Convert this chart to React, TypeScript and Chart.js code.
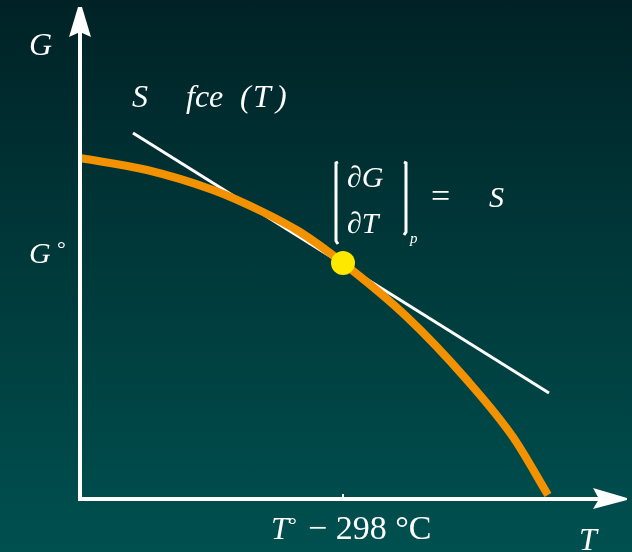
import React, { useEffect, useRef } from "react";
import { Chart, registerables } from "chart.js";

Chart.register(...registerables);

// Temperature (T) and Gibbs energy (G) in arbitrary units, origin at the axes' corner
const curveT = [0, 6.7, 13.3, 18.3, 22, 26.3, 32.7, 38.7, 43.3, 46.8];
const curveG = [34.1, 32.9, 30.9, 28.7, 26.7, 23.6, 18.2, 11.9, 6.2, 0.4];

// Tangent to the curve at the standard temperature T°
const tangentT = [5.3, 46.9];
const tangentG = [36.6, 10.6];

// Point of tangency (T°, G°)
const pointT = [26.3];
const pointG = [23.6];

// Axis extents (arrow tips)
const axisTMax = 54.7;
const axisGMax = 49.2;

const FONT = '"Liberation Serif", "Times New Roman", serif';

const overlay = {
  id: "overlay",
  afterDatasetsDraw(chart: any) {
    const { ctx, scales } = chart;
    const px = (v: number) => scales.x.getPixelForValue(v);
    const py = (v: number) => scales.y.getPixelForValue(v);
    const x0 = px(0);
    const y0 = py(0);
    const xTip = px(axisTMax);
    const yTip = py(axisGMax);

    ctx.save();
    ctx.fillStyle = "#ffffff";
    ctx.strokeStyle = "#ffffff";

    // axes
    ctx.lineWidth = 4;
    ctx.lineCap = "butt";
    ctx.beginPath();
    ctx.moveTo(x0, y0 + 1);
    ctx.lineTo(x0, yTip + 20);
    ctx.moveTo(x0 - 2, y0);
    ctx.lineTo(xTip - 20, y0);
    ctx.stroke();

    // arrow heads
    ctx.beginPath();
    ctx.moveTo(x0 - 2, yTip);
    ctx.lineTo(x0 + 2, yTip);
    ctx.lineTo(x0 + 11, yTip + 30);
    ctx.lineTo(x0, yTip + 25);
    ctx.lineTo(x0 - 11, yTip + 30);
    ctx.closePath();
    ctx.fill();
    ctx.beginPath();
    ctx.moveTo(xTip, y0 - 1);
    ctx.lineTo(xTip, y0 + 1);
    ctx.lineTo(xTip - 34, y0 + 10);
    ctx.lineTo(xTip - 28, y0);
    ctx.lineTo(xTip - 34, y0 - 11);
    ctx.closePath();
    ctx.fill();

    // tick at T°
    ctx.lineWidth = 2;
    ctx.beginPath();
    ctx.moveTo(px(pointT[0]), y0 - 5);
    ctx.lineTo(px(pointT[0]), y0);
    ctx.stroke();

    ctx.textBaseline = "alphabetic";
    ctx.textAlign = "left";
    const txt = (s: string, x: number, y: number, size: number, italic = true) => {
      ctx.font = `${italic ? "italic " : ""}${size}px ${FONT}`;
      ctx.fillText(s, x, y);
    };

    // axis names
    txt("G", 29, 55, 32);
    txt("T", 579, 550, 32);

    // S = f(T) caption
    txt("S", 132, 107, 32);
    txt("fce", 186, 107, 32);
    txt("(", 240, 107, 32);
    txt("T", 253, 107, 32);
    txt(")", 276, 107, 32);

    // G° on the vertical axis
    txt("G", 29, 263, 30);
    txt("°", 57, 256, 22, false);

    // partial derivative expression
    txt("\u2202G", 347, 187, 30);
    txt("\u2202T", 347, 233, 30);
    ctx.lineWidth = 3;
    ctx.beginPath();
    ctx.moveTo(338, 162);
    ctx.lineTo(336, 163);
    ctx.lineTo(336, 241);
    ctx.lineTo(338, 244);
    ctx.moveTo(404, 162);
    ctx.lineTo(406, 163);
    ctx.lineTo(406, 232);
    ctx.lineTo(404, 235);
    ctx.stroke();
    txt("p", 410, 243, 15);
    txt("=", 431, 207, 34, false);
    txt("S", 489, 207, 30);

    // standard temperature label
    txt("T", 271, 539, 32);
    txt("°", 288, 532, 22, false);
    txt("\u2212 298 \u00b0C", 308, 539, 34, false);

    ctx.restore();
  },
};

export default function App() {
  const ref = useRef<HTMLCanvasElement>(null);

  useEffect(() => {
    if (!ref.current) return;
    const toPts = (xs: number[], ys: number[]) => xs.map((x, i) => ({ x, y: ys[i] }));
    const chart = new Chart(ref.current, {
      type: "scatter",
      data: {
        datasets: [
          {
            type: "line",
            data: toPts(pointT, pointG),
            showLine: false,
            pointRadius: 12,
            pointBackgroundColor: "#ffe800",
            pointBorderWidth: 0,
            order: 0,
          },
          {
            type: "line",
            data: toPts(curveT, curveG),
            borderColor: "#f39200",
            borderWidth: 8,
            borderCapStyle: "butt",
            cubicInterpolationMode: "monotone",
            pointRadius: 0,
            order: 1,
          },
          {
            type: "line",
            data: toPts(tangentT, tangentG),
            borderColor: "#ffffff",
            borderWidth: 3,
            pointRadius: 0,
            order: 2,
          },
        ],
      } as any,
      options: {
        animation: false,
        responsive: false,
        events: [],
        layout: { padding: 0, autoPadding: false },
        plugins: { legend: { display: false }, tooltip: { enabled: false } },
        scales: {
          x: { type: "linear", min: -8, max: 55.2, display: false },
          y: { type: "linear", min: -5.3, max: 49.9, display: false },
        },
        elements: { line: { fill: false } },
        clip: false,
      } as any,
      plugins: [overlay],
    });
    return () => chart.destroy();
  }, []);

  return (
    <div
      style={{
        position: "fixed",
        left: 0,
        top: 0,
        width: 632,
        height: 552,
        background: "linear-gradient(to bottom, #002226 0%, #003a3b 50%, #005050 100%)",
      }}
    >
      <canvas ref={ref} width={632} height={552} style={{ display: "block" }} />
    </div>
  );
}
